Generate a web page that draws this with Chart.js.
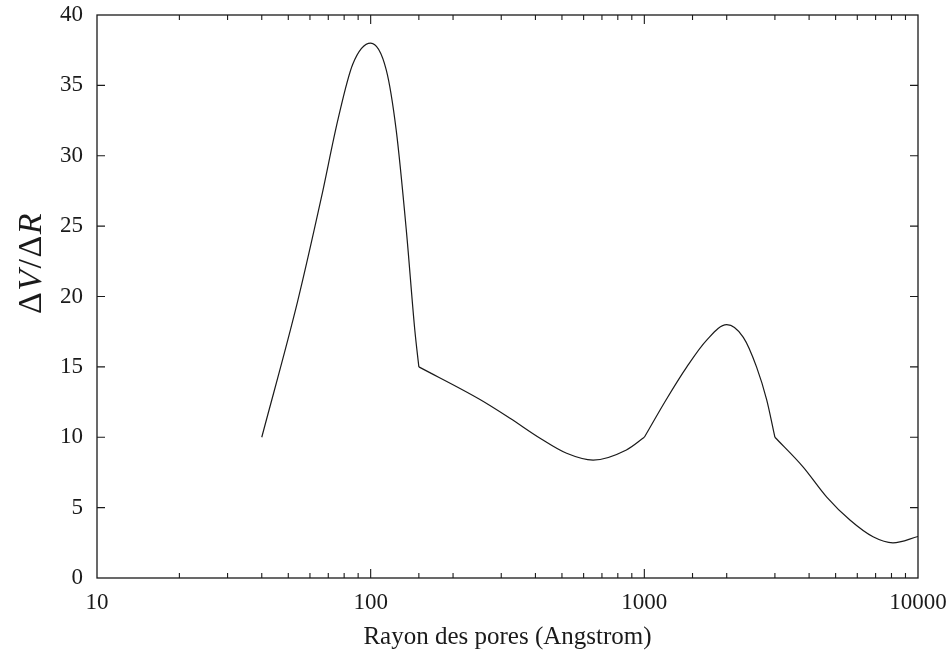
<!DOCTYPE html>
<html>
<head>
<meta charset="utf-8">
<script src="https://cdn.jsdelivr.net/npm/chart.js@4/dist/chart.umd.min.js"></script>
<style>
  html, body { margin: 0; padding: 0; background: #fff; }
  #wrap { width: 950px; height: 655px; }
</style>
</head>
<body>
<div id="wrap"><canvas id="poreChart" width="950" height="655"></canvas></div>
<script>
// --- données ---
const rayon = [40, 54, 66, 76, 86, 100, 114, 124, 135, 145, 150,
               250, 323, 416, 520, 650, 860, 1000,
               1200, 1430, 1690, 2000, 2300, 2570, 2800, 3000,
               3800, 4640, 5640, 6850, 8100, 10000];
const dvdr = [10, 19.6, 27.0, 32.6, 36.5, 38.0, 36.1, 31.8, 24.7, 17.6, 15,
              12.7, 11.35, 9.93, 8.86, 8.38, 9.1, 10,
              12.65, 15.0, 16.9, 18.0, 17.1, 15.0, 12.65, 10,
              7.9, 5.75, 4.12, 2.93, 2.5, 2.95];
// points anguleux (la courbe est lissée entre eux)
const coupures = [150, 1000, 3000];
const xTicksLabels = [10, 100, 1000, 10000];
const yTicks = [0, 5, 10, 15, 20, 25, 30, 35, 40];

const serif = "'Liberation Serif', 'DejaVu Serif', serif";
const ink = '#1a1a1a';

// découpe en morceaux aux points anguleux
function buildSegments() {
    const segs = [];
    let cur = [];
    for (let i = 0; i < rayon.length; i++) {
        cur.push({ x: rayon[i], y: dvdr[i] });
        if (coupures.includes(rayon[i])) {
            segs.push(cur);
            cur = [{ x: rayon[i], y: dvdr[i] }];
        }
    }
    if (cur.length > 1) segs.push(cur);
    return segs;
}

const datasets = buildSegments().map(pts => ({
    data: pts,
    borderColor: ink,
    borderWidth: 1.2,
    pointRadius: 0,
    cubicInterpolationMode: 'monotone',
    fill: false
}));

// cadre + graduations vers l'intérieur (style gnuplot)
const frameTicks = {
    id: 'frameTicks',
    afterDraw(chart) {
        const { ctx, chartArea: a, scales } = chart;
        ctx.save();
        ctx.strokeStyle = ink;
        ctx.lineWidth = 1.3;
        ctx.strokeRect(a.left, a.top, a.right - a.left, a.bottom - a.top);
        ctx.lineWidth = 1.1;
        ctx.beginPath();
        scales.x.ticks.forEach(t => {
            const px = scales.x.getPixelForValue(t.value);
            const major = xTicksLabels.includes(t.value);
            const len = major ? 9 : 5;
            if (px <= a.left + 0.5 || px >= a.right - 0.5) return;
            ctx.moveTo(px, a.bottom); ctx.lineTo(px, a.bottom - len);
            ctx.moveTo(px, a.top); ctx.lineTo(px, a.top + len);
        });
        yTicks.forEach(v => {
            const py = scales.y.getPixelForValue(v);
            if (py <= a.top + 0.5 || py >= a.bottom - 0.5) return;
            ctx.moveTo(a.left, py); ctx.lineTo(a.left + 8, py);
            ctx.moveTo(a.right, py); ctx.lineTo(a.right - 8, py);
        });
        ctx.stroke();

        // titre de l'axe y : ΔV/ΔR (Δ droit, V et R en italique)
        const parts = [['Δ', ''], ['V', 'italic '], ['/', ''], ['Δ', ''], ['R', 'italic ']];
        const size = 34;
        ctx.fillStyle = ink;
        ctx.textBaseline = 'alphabetic';
        let total = 0;
        parts.forEach(p => { ctx.font = p[1] + size + 'px ' + serif; total += ctx.measureText(p[0]).width + 1.5; });
        ctx.translate(41, 263 + total / 2);
        ctx.rotate(-Math.PI / 2);
        let x = 0;
        parts.forEach(p => {
            ctx.font = p[1] + size + 'px ' + serif;
            ctx.fillText(p[0], x, 0);
            x += ctx.measureText(p[0]).width + 1.5;
        });
        ctx.restore();
    }
};

new Chart(document.getElementById('poreChart'), {
    type: 'line',
    data: { datasets },
    options: {
        responsive: false,
        animation: false,
        layout: { padding: { top: 15, right: 32, left: 0, bottom: 0 } },
        plugins: { legend: { display: false }, tooltip: { enabled: false } },
        scales: {
            x: {
                type: 'logarithmic',
                min: 10,
                max: 10000,
                grid: { display: false, drawTicks: false },
                border: { display: false },
                ticks: {
                    autoSkip: false,
                    maxRotation: 0,
                    padding: 11,
                    color: ink,
                    font: { family: serif, size: 23 },
                    callback: v => xTicksLabels.includes(v) ? String(v) : ''
                },
                title: {
                    display: true,
                    text: 'Rayon des pores (Angstrom)',
                    color: ink,
                    font: { family: serif, size: 25 },
                    padding: { top: 0, bottom: 3 }
                },
                afterFit: s => { s.height = 77; s.paddingLeft = 0; s.paddingRight = 0; }
            },
            y: {
                min: 0,
                max: 40,
                grid: { display: false, drawTicks: false },
                border: { display: false },
                ticks: {
                    stepSize: 5,
                    padding: 14,
                    color: ink,
                    font: { family: serif, size: 23 }
                },
                afterFit: s => { s.width = 97; s.paddingTop = 0; s.paddingBottom = 0; }
            }
        }
    },
    plugins: [frameTicks]
});
</script>
</body>
</html>
